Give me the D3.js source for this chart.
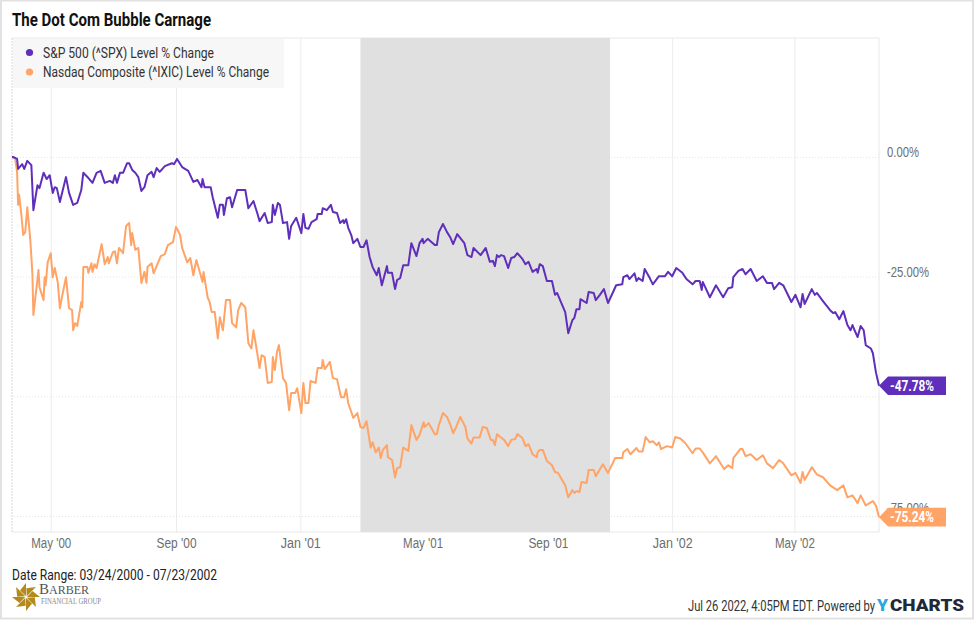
<!DOCTYPE html>
<html>
<head>
<meta charset="utf-8">
<script src="https://cdnjs.cloudflare.com/ajax/libs/d3/7.8.5/d3.min.js"></script>
<style>
  body { margin: 0; background: #fff; }
  svg { display: block; font-family: Roboto, sans-serif; }
</style>
</head>
<body>
<svg></svg>
<script>
const width = 975;
const height = 620;

const startDate = new Date(Date.UTC(2000, 2, 24));
const endDate = new Date(Date.UTC(2002, 6, 23));
const recession = [new Date(Date.UTC(2001, 2, 1)), new Date(Date.UTC(2001, 10, 1))];
const xTicks = [[2000, 4], [2000, 8], [2001, 0], [2001, 4], [2001, 8], [2002, 0], [2002, 4]];
const yTicks = [0, -25, -50, -75];

// days since 03/24/2000
const spxDays = [0, 1, 5, 6, 10, 12, 15, 19, 21, 25, 27, 31, 34, 37, 40, 42, 44, 47, 53, 56, 60, 64, 68, 70, 75, 79, 83, 87, 91, 96, 99, 101, 103, 106, 109, 113, 115, 118, 121, 124, 127, 130, 133, 137, 139, 142, 145, 150, 157, 159, 162, 167, 173, 178, 182, 186, 187, 189, 195, 197, 202, 204, 207, 208, 211, 214, 216, 221, 229, 232, 237, 241, 243, 248, 251, 255, 256, 258, 261, 263, 266, 270, 272, 274, 279, 284, 286, 288, 291, 294, 299, 300, 304, 305, 309, 313, 315, 319, 322, 325, 326, 328, 330, 333, 335, 339, 342, 345, 348, 351, 354, 358, 360, 363, 368, 369, 373, 376, 378, 381, 384, 389, 392, 397, 400, 403, 404, 408, 415, 417, 419, 423, 427, 430, 433, 437, 444, 447, 451, 453, 460, 465, 469, 472, 474, 476, 478, 480, 483, 487, 490, 493, 496, 501, 504, 507, 511, 515, 516, 518, 521, 525, 530, 533, 535, 543, 546, 550, 552, 554, 557, 558, 564, 566, 571, 573, 577, 581, 585, 590, 593, 599, 600, 604, 606, 611, 613, 615, 619, 621, 626, 629, 635, 641, 644, 648, 652, 658, 662, 668, 671, 675, 677, 678, 685, 691, 698, 703, 707, 708, 713, 717, 720, 725, 731, 737, 741, 746, 748, 753, 757, 765, 769, 774, 776, 778, 785, 788, 790, 796, 803, 806, 808, 812, 816, 820, 823, 825, 827, 830, 833, 836, 838, 843, 845, 848, 851];
const spxValues = [0, 0, -0.4, -2.5, -1.5, -2.5, -0.8, -1.7, -11.1, -5.9, -6.5, -3.3, -4.6, -3.8, -7.5, -6.3, -6.5, -9.4, -4.2, -7.5, -10.0, -9.6, -6.9, -3.3, -4.4, -5.4, -3.3, -2.9, -5.4, -5.0, -5.4, -3.8, -5.4, -3.3, -3.3, -1.3, -1.3, -2.7, -3.3, -4.2, -7.1, -6.3, -3.8, -3.1, -4.2, -2.3, -3.1, -1.9, -1.3, -1.5, -0.4, -2.1, -2.9, -5.2, -4.8, -6.3, -4.6, -6.3, -6.3, -8.4, -12.7, -10.0, -10.0, -12.1, -8.6, -8.4, -10.5, -6.9, -6.9, -10.7, -9.2, -11.9, -13.4, -11.7, -13.8, -13.6, -10.0, -12.1, -9.6, -10.0, -13.8, -13.6, -17.1, -14.4, -12.7, -15.9, -11.9, -14.8, -15.0, -13.6, -13.0, -11.9, -11.9, -10.7, -11.1, -10.0, -11.5, -11.7, -13.8, -13.2, -13.8, -13.0, -14.8, -16.3, -18.0, -17.1, -18.8, -18.8, -17.4, -20.9, -23.0, -24.7, -23.2, -26.8, -22.8, -24.2, -24.2, -27.6, -25.7, -25.3, -22.6, -22.6, -18.0, -20.7, -18.0, -17.1, -18.0, -17.1, -18.4, -18.4, -15.7, -14.0, -15.7, -16.7, -18.2, -16.1, -18.0, -20.5, -20.9, -19.0, -20.5, -19.0, -21.9, -21.7, -22.8, -20.5, -20.9, -20.5, -20.7, -23.2, -21.1, -20.9, -20.1, -21.3, -22.4, -21.9, -24.0, -23.4, -24.2, -22.4, -22.8, -25.9, -25.9, -28.8, -28.4, -32.4, -36.8, -34.1, -33.6, -31.8, -31.8, -29.7, -30.5, -28.2, -28.4, -29.9, -28.8, -27.6, -30.5, -28.2, -26.8, -26.6, -25.1, -24.7, -25.5, -24.3, -25.9, -25.3, -25.9, -23.4, -25.3, -26.6, -24.9, -24.9, -24.0, -24.9, -23.2, -24.2, -25.5, -26.6, -25.9, -25.9, -27.8, -26.1, -29.3, -26.8, -29.3, -27.4, -27.2, -25.1, -23.8, -23.4, -24.5, -23.4, -25.9, -24.9, -26.3, -26.3, -27.6, -26.3, -26.8, -30.3, -28.8, -31.4, -28.6, -30.7, -27.6, -28.8, -28.4, -30.1, -32.0, -32.6, -32.4, -33.9, -32.2, -35.1, -36.2, -35.1, -36.2, -37.6, -35.3, -36.2, -39.3, -40.0, -41.0, -45.0, -47.78];

const ixicDays = [0, 3, 5, 6, 7, 9, 11, 13, 15, 18, 20, 21, 26, 27, 31, 32, 33, 35, 38, 40, 42, 45, 47, 49, 53, 56, 59, 60, 62, 64, 68, 69, 70, 74, 75, 78, 79, 81, 83, 88, 91, 94, 95, 99, 101, 103, 105, 109, 112, 115, 117, 118, 121, 124, 127, 130, 132, 133, 137, 139, 146, 150, 153, 158, 161, 165, 167, 172, 175, 178, 181, 187, 188, 192, 194, 196, 199, 202, 204, 207, 210, 214, 216, 220, 222, 225, 229, 232, 235, 237, 240, 243, 245, 248, 251, 255, 256, 258, 260, 262, 266, 269, 272, 274, 278, 280, 284, 286, 288, 291, 293, 298, 300, 304, 305, 307, 312, 315, 319, 323, 326, 328, 330, 335, 339, 342, 345, 348, 352, 354, 357, 360, 362, 364, 368, 369, 373, 376, 378, 381, 384, 389, 392, 397, 400, 404, 405, 409, 415, 417, 419, 423, 427, 430, 433, 436, 440, 445, 447, 451, 453, 459, 462, 466, 470, 472, 474, 476, 480, 483, 487, 490, 494, 496, 501, 504, 507, 511, 515, 516, 518, 521, 525, 530, 533, 536, 543, 546, 550, 552, 554, 557, 559, 564, 566, 571, 573, 580, 585, 592, 599, 600, 604, 607, 613, 615, 619, 622, 626, 629, 633, 635, 637, 643, 648, 651, 656, 661, 668, 671, 675, 678, 685, 691, 699, 703, 707, 708, 715, 717, 720, 725, 731, 737, 741, 747, 753, 757, 765, 769, 774, 776, 778, 785, 790, 796, 803, 810, 816, 820, 825, 830, 833, 838, 845, 848, 851];
const ixicValues = [0, -0.2, -3.1, -10.0, -7.9, -11.7, -16.3, -15.7, -10.5, -17.4, -24.3, -33.0, -23.6, -27.2, -29.9, -25.1, -26.8, -22.0, -20.1, -25.1, -23.2, -26.3, -31.6, -29.3, -25.1, -31.6, -32.0, -36.2, -34.7, -35.3, -30.3, -31.4, -23.0, -23.0, -24.2, -22.2, -24.0, -22.4, -23.2, -18.2, -22.4, -20.9, -22.2, -19.9, -19.7, -22.2, -19.0, -20.1, -14.4, -13.8, -18.4, -15.9, -19.4, -19.0, -26.3, -24.0, -26.3, -23.0, -22.2, -24.3, -20.7, -20.3, -18.4, -17.8, -14.6, -16.3, -19.0, -22.0, -21.1, -24.7, -21.5, -26.1, -24.0, -29.3, -30.3, -32.4, -32.4, -37.9, -33.5, -36.2, -29.9, -29.9, -34.7, -35.6, -32.0, -30.5, -31.4, -38.9, -40.0, -36.2, -40.0, -44.1, -41.4, -41.8, -47.2, -47.0, -41.8, -44.5, -40.8, -39.3, -46.2, -47.2, -52.9, -49.3, -49.3, -48.3, -53.5, -47.2, -51.4, -51.4, -46.8, -47.2, -44.1, -44.1, -42.4, -44.3, -42.8, -46.2, -46.4, -50.2, -50.2, -48.5, -51.4, -54.5, -53.5, -56.4, -56.6, -55.2, -60.7, -59.6, -61.7, -60.7, -62.9, -61.2, -60.2, -62.7, -63.3, -66.9, -65.0, -64.8, -60.7, -61.4, -56.0, -59.1, -58.1, -55.4, -56.4, -55.6, -57.9, -57.9, -56.0, -53.5, -54.3, -55.8, -57.7, -56.4, -54.3, -56.4, -58.8, -59.9, -58.6, -58.6, -56.4, -56.6, -59.1, -59.1, -60.2, -57.9, -58.6, -59.1, -60.4, -59.1, -58.9, -57.9, -58.7, -60.4, -60.0, -62.1, -62.7, -61.7, -61.2, -61.2, -63.5, -64.4, -65.8, -66.0, -68.6, -71.1, -69.6, -70.2, -69.8, -70.0, -67.9, -68.1, -65.4, -65.4, -66.7, -64.2, -66.0, -62.9, -62.9, -61.7, -61.0, -62.1, -60.8, -61.5, -61.5, -58.5, -59.6, -59.4, -60.2, -59.6, -61.0, -60.4, -60.7, -58.5, -58.8, -59.8, -61.9, -60.9, -60.9, -61.7, -64.0, -62.5, -65.2, -64.4, -65.0, -62.9, -61.0, -61.0, -62.5, -62.1, -63.3, -62.3, -64.0, -65.0, -63.3, -64.0, -66.5, -66.0, -68.1, -65.8, -67.5, -64.8, -66.3, -66.9, -68.6, -69.6, -68.6, -71.1, -70.7, -72.3, -70.7, -72.8, -71.9, -72.8, -75.24];

const seriesNames = ["S&P 500 (^SPX) Level % Change", "Nasdaq Composite (^IXIC) Level % Change"];
const seriesColors = ["#5f2eba", "#ffa466"];

const svg = d3.select("svg")
    .attr("width", width)
    .attr("height", height)

const plot = { left: 12, right: 879, top: 38, bottom: 532 };

// plain hyphen in the percent labels, d3.format gives a long minus
const pct = d => d.toFixed(2) + "%";

const xScale = d3.scaleUtc()
    .domain([startDate, endDate])
    .range([plot.left, plot.right])

// 0% and -75% sit at these pixels, the rest of the plot is just extra room
const yScale = d3.scaleLinear()
    .domain([0, -75])
    .range([157, 516])

// outer frame of the screenshot
svg.append("rect")
    .attr("x", 1).attr("y", 0.5)
    .attr("width", width - 3).attr("height", height - 2)
    .attr("fill", "none")
    .attr("stroke", "#e2e2e2")
    .attr("stroke-width", 2)

// grid
const xAxis = d3.axisBottom(xScale)
    .tickValues(xTicks.map(d => new Date(Date.UTC(d[0], d[1], 1))))
    .tickFormat(d3.utcFormat("%b '%y"))
    .tickSize(-(plot.bottom - plot.top))
    .tickPadding(6)

const xg = svg.append("g")
    .attr("transform", "translate(0, " + plot.bottom + ")")
    .call(xAxis)
xg.select(".domain").remove()
xg.selectAll("line").attr("stroke", "#ececec")
xg.selectAll("text")
    .attr("fill", "#6e6e6e")
    .style("font-size", "14px")
    .attr("textLength", 40)
    .attr("lengthAdjust", "spacingAndGlyphs")

const yAxis = d3.axisRight(yScale)
    .tickValues(yTicks)
    .tickFormat(pct)
    .tickSize(-(plot.right - plot.left))
    .tickPadding(8)

const yg = svg.append("g")
    .attr("transform", "translate(" + plot.right + ", 0)")
    .call(yAxis)
yg.select(".domain").remove()
yg.selectAll("line")
    .attr("stroke", "#e4e4e4")
    .attr("stroke-dasharray", "1,2")
yg.selectAll("text")
    .attr("y", d => d < -25 ? -8 : -5)
    .attr("fill", "#6e6e6e")
    .style("font-size", "14px")
    .attr("textLength", d => d === 0 ? 32 : 42)
    .attr("lengthAdjust", "spacingAndGlyphs")

// plot edges
svg.append("path")
    .attr("d", d3.line()([[plot.left, plot.top], [plot.right, plot.top], [plot.right, plot.bottom], [plot.left, plot.bottom]]))
    .attr("fill", "none")
    .attr("stroke", "#e8e8e8")
svg.append("line")
    .attr("x1", plot.left).attr("x2", plot.left)
    .attr("y1", plot.top).attr("y2", plot.bottom)
    .attr("stroke", "#d8d8d8")
    .attr("stroke-dasharray", "2,1")

// recession band
svg.append("rect")
    .attr("x", xScale(recession[0]))
    .attr("y", plot.top)
    .attr("width", xScale(recession[1]) - xScale(recession[0]))
    .attr("height", plot.bottom - plot.top)
    .attr("fill", "#e0e0e0")

// lines
const line = d3.line()
    .x(d => xScale(d3.utcDay.offset(startDate, d[0])))
    .y(d => yScale(d[1]))

const series = [d3.zip(spxDays, spxValues), d3.zip(ixicDays, ixicValues)]

series.slice().reverse().forEach((s, i) => {
    svg.append("path")
        .attr("d", line(s))
        .attr("fill", "none")
        .attr("stroke", seriesColors[1 - i])
        .attr("stroke-width", 2)
        .attr("stroke-linejoin", "round")
})

// end labels
series.forEach((s, i) => {
    const last = s[s.length - 1]
    const lx = plot.right
    const ly = yScale(last[1])
    svg.append("path")
        .attr("d", d3.line()([[lx, ly], [lx + 9, ly - 9.3], [lx + 67, ly - 9.3], [lx + 67, ly + 9.3], [lx + 9, ly + 9.3]]) + "Z")
        .attr("fill", seriesColors[i])
    svg.append("text")
        .attr("x", lx + 11)
        .attr("y", ly + 5)
        .attr("fill", "#fff")
        .attr("font-weight", 700)
        .attr("textLength", 44)
        .attr("lengthAdjust", "spacingAndGlyphs")
        .style("font-size", "14px")
        .text(pct(last[1]))
})

// legend
svg.append("rect")
    .attr("x", 13).attr("y", 39)
    .attr("width", 271).attr("height", 49)
    .attr("fill", "#f7f7f7")

const legend = svg.selectAll(".legend")
    .data(seriesNames)
    .enter().append("g")
    .attr("class", "legend")
    .attr("transform", (d, i) => "translate(0, " + (52.5 + i * 19.5) + ")")

legend.append("circle")
    .attr("cx", 29.5)
    .attr("r", 3.6)
    .attr("fill", (d, i) => seriesColors[i])

legend.append("text")
    .attr("x", 43)
    .attr("y", 5)
    .attr("fill", "#333")
    .attr("textLength", (d, i) => i === 0 ? 171 : 226)
    .attr("lengthAdjust", "spacingAndGlyphs")
    .style("font-size", "14px")
    .text(d => d)

// title and footer
svg.append("text")
    .attr("x", 12).attr("y", 26)
    .attr("font-weight", 700)
    .attr("fill", "#111")
    .attr("textLength", 199)
    .attr("lengthAdjust", "spacingAndGlyphs")
    .style("font-size", "18px")
    .text("The Dot Com Bubble Carnage")

svg.append("text")
    .attr("x", 12).attr("y", 580)
    .attr("fill", "#222")
    .attr("textLength", 205)
    .attr("lengthAdjust", "spacingAndGlyphs")
    .style("font-size", "14px")
    .text("Date Range: 03/24/2000 - 07/23/2002")

svg.append("text")
    .attr("x", 688).attr("y", 611)
    .attr("fill", "#333")
    .attr("textLength", 187)
    .attr("lengthAdjust", "spacingAndGlyphs")
    .style("font-size", "14px")
    .text("Jul 26 2022, 4:05PM EDT. Powered by")

svg.append("text")
    .attr("x", 877).attr("y", 611)
    .attr("fill", "#29a8e0")
    .attr("font-weight", 900)
    .attr("textLength", 11)
    .attr("lengthAdjust", "spacingAndGlyphs")
    .style("font-size", "16px")
    .text("Y")

svg.append("text")
    .attr("x", 890).attr("y", 611)
    .attr("fill", "#1f2a36")
    .attr("font-weight", 900)
    .attr("textLength", 74)
    .attr("lengthAdjust", "spacingAndGlyphs")
    .style("font-size", "16px")
    .text("CHARTS")

// Barber logo, a small pinwheel and the name
const logo = svg.append("g").attr("transform", "translate(26, 597)")
logo.selectAll("path")
    .data(d3.range(8))
    .enter().append("path")
    .attr("d", "M1,0L14,0L6.5,-6Z")
    .attr("fill", "#b58a1c")
    .attr("transform", d => "rotate(" + d * 45 + ")")

const brand = svg.append("text")
    .attr("x", 39).attr("y", 594)
    .attr("fill", "#555")
    .style("font-family", "'Liberation Serif', serif")
brand.append("tspan").style("font-size", "15px").text("B")
brand.append("tspan").style("font-size", "12px").text("ARBER")

svg.append("text")
    .attr("x", 41).attr("y", 604)
    .attr("fill", "#888")
    .attr("textLength", 60)
    .attr("lengthAdjust", "spacingAndGlyphs")
    .style("font-family", "'Liberation Serif', serif")
    .style("font-size", "8px")
    .text("FINANCIAL GROUP")
</script>
</body>
</html>
